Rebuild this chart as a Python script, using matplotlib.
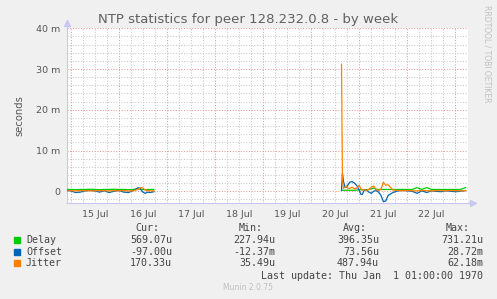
import matplotlib
matplotlib.use("Agg")
import matplotlib.pyplot as plt

# ------------------------------
# datos (milisegundos, dias desde 15 Jul 00:00)
# ------------------------------
dias = ["15 Jul", "16 Jul", "17 Jul", "18 Jul", "19 Jul", "20 Jul", "21 Jul", "22 Jul"]

t1 = [-0.08, 0.0, 0.1, 0.2, 0.3, 0.4, 0.5, 0.6, 0.7, 0.8, 0.9, 1.0, 1.1,
      1.2, 1.3, 1.35, 1.4, 1.45, 1.5, 1.55, 1.6, 1.65, 1.73]
delay1 = [0.45, 0.45, 0.4, 0.45, 0.45, 0.5, 0.45, 0.4, 0.45, 0.45, 0.5, 0.45, 0.45,
          0.4, 0.45, 0.5, 0.6, 0.5, 0.45, 0.4, 0.45, 0.45, 0.45]
offset1 = [0.2, 0.1, -0.3, -0.2, 0.1, 0.2, 0.1, -0.2, 0.1, -0.3, 0.0, 0.2, -0.2,
           -0.3, 0.2, 0.5, 0.9, 0.6, -0.2, -0.5, -0.2, -0.3, -0.1]
jitter1 = [0.1, 0.15, 0.1, 0.2, 0.1, 0.15, 0.1, 0.2, 0.1, 0.1, 0.15, 0.1, 0.2,
           0.1, 0.1, 0.3, 0.5, 0.9, 0.8, 0.3, 0.2, 0.1, 0.1]

t2 = [5.63, 5.65, 5.67, 5.70, 5.73, 5.76, 5.80, 5.85, 5.90, 5.95, 6.00, 6.03,
      6.06, 6.10, 6.15, 6.20, 6.25, 6.30, 6.35, 6.40, 6.45, 6.50, 6.55, 6.60,
      6.70, 6.80, 6.90, 7.00, 7.10, 7.20, 7.30, 7.40, 7.50, 7.60, 7.70, 7.80,
      7.90, 8.00, 8.10, 8.21]
delay2 = [0.25, 0.25, 0.25, 0.25, 0.25, 0.25, 0.25, 0.25, 0.25, 0.3, 0.4, 0.4,
          0.4, 0.4, 0.4, 0.45, 0.6, 0.8, 0.5, 0.45, 0.45, 0.45, 0.45, 0.45,
          0.45, 0.45, 0.45, 0.45, 0.45, 0.9, 0.45, 0.9, 0.45, 0.45, 0.45, 0.45,
          0.45, 0.45, 0.45, 0.9]
offset2 = [0.3, 4.4, 2.5, 1.1, 1.0, 1.5, 2.2, 2.4, 2.0, 1.4, 0.2, -0.7,
           -0.8, 0.2, 0.3, -0.2, -0.5, 0.0, 0.2, -0.2, -1.0, -2.5, -2.4, -1.0,
           -0.3, 0.1, 0.2, 0.1, 0.0, -0.5, 0.1, -0.3, 0.1, 0.0, -0.1, 0.1,
           0.0, -0.1, 0.0, 0.2]
jitter2 = [31.2, 2.5, 0.7, 1.0, 1.3, 0.8, 0.7, 1.0, 0.6, 0.8, 1.5, 0.6,
           0.3, 0.4, 0.2, 0.5, 1.0, 1.3, 0.4, 0.2, 0.5, 2.2, 1.5, 1.6,
           0.3, 0.2, 0.15, 0.2, 0.15, 0.1, 0.2, 0.15, 0.1, 0.2, 0.15, 0.1,
           0.2, 0.15, 0.1, 0.15]

series = ["Delay", "Offset", "Jitter"]
colores = ["#00CC00", "#0066B3", "#FF8000"]
cur = ["569.07u", "-97.00u", "170.33u"]
minimo = ["227.94u", "-12.37m", "35.49u"]
promedio = ["396.35u", "73.56u", "487.94u"]
maximo = ["731.21u", "28.72m", "62.18m"]

W, H = 497, 299


def px(x, y):
    return x / W, 1 - y / H


fig = plt.figure(figsize=(W / 100, H / 100), dpi=100, facecolor="#F0F0F0")
ax = fig.add_axes([67 / W, (H - 202.7) / H, (468 - 67) / W, (202.7 - 28.3) / H])
ax.set_facecolor("white")

ax.set_xlim(-0.077, 8.26)
ax.set_ylim(-2.8, 40)

# ------------------------------
# grilla
# ------------------------------
rojo = "#E89A9A"
gris = "#C8C8C8"
punteado = (0, (1, 1.6))

for k in range(-1, 34):
    xv = k * 0.25
    if -0.077 < xv < 8.26:
        if k % 4 == 0:
            ax.axvline(xv, color=rojo, lw=0.75, ls=punteado, zorder=1)
        else:
            ax.axvline(xv, color=gris, lw=0.75, ls=punteado, zorder=1)

for k in range(-1, 21):
    yv = k * 2
    if k % 5 == 0:
        ax.axhline(yv, color=rojo, lw=0.75, ls=punteado, zorder=1)
    else:
        ax.axhline(yv, color=gris, lw=0.75, ls=punteado, zorder=1)

# ------------------------------
# series
# ------------------------------
ax.plot(t1, delay1, color=colores[0], lw=0.9, zorder=3)
ax.plot(t1, offset1, color=colores[1], lw=0.9, zorder=4)
ax.plot(t1, jitter1, color=colores[2], lw=0.9, zorder=5)
ax.plot(t2, delay2, color=colores[0], lw=0.9, zorder=3)
ax.plot(t2, offset2, color=colores[1], lw=0.9, zorder=4)
ax.plot(t2, jitter2, color=colores[2], lw=0.9, zorder=5)

# ------------------------------
# ejes
# ------------------------------
for s in ["top", "right"]:
    ax.spines[s].set_visible(False)
ax.spines["left"].set_color("#C8C8F0")
ax.spines["bottom"].set_color("#C8C8F0")
ax.plot([0, 0], [1, 1.03], color="#C8C8F0", lw=0.8,
        transform=ax.transAxes, clip_on=False)
ax.plot([1, 1.01], [0, 0], color="#C8C8F0", lw=0.8,
        transform=ax.transAxes, clip_on=False)
ax.plot(0, 1.03, marker="^", ms=4, color="#C8C8F0",
        transform=ax.transAxes, clip_on=False)
ax.plot(1.012, 0, marker=">", ms=4, color="#C8C8F0",
        transform=ax.transAxes, clip_on=False)

ax.set_yticks([0, 10, 20, 30, 40])
ax.set_yticklabels(["0", "10 m", "20 m", "30 m", "40 m"])
ax.set_xticks([i + 0.5 for i in range(len(dias))])
ax.set_xticklabels(dias)
ax.tick_params(axis="both", length=0, labelsize=6.8, colors="#555555", pad=5)
ax.set_ylabel("seconds", fontsize=7.2, color="#555555", labelpad=8)

fig.text(*px(248, 19), "NTP statistics for peer 128.232.0.8 - by week",
         ha="center", va="center", fontsize=9.5, color="#606060")
fig.text(*px(487, 5), "RRDTOOL / TOBI OETIKER", rotation=270,
         ha="center", va="top", fontsize=5.5, color="#C0C0C0")

# ------------------------------
# leyenda tipo munin
# ------------------------------
mono = {"family": "DejaVu Sans Mono", "fontsize": 7.2, "color": "#444444"}

for xx, txt in zip([159, 263, 367, 470], ["Cur:", "Min:", "Avg:", "Max:"]):
    fig.text(*px(xx, 228), txt, ha="right", va="center", **mono)

for i, nombre in enumerate(series):
    yy = 240 + i * 11.7
    fig.patches.append(plt.Rectangle(px(14, yy + 3), 6 / W, 6 / H,
                                     transform=fig.transFigure,
                                     color=colores[i]))
    fig.text(*px(26, yy), nombre, ha="left", va="center", **mono)
    fig.text(*px(172, yy), cur[i], ha="right", va="center", **mono)
    fig.text(*px(275, yy), minimo[i], ha="right", va="center", **mono)
    fig.text(*px(379, yy), promedio[i], ha="right", va="center", **mono)
    fig.text(*px(483, yy), maximo[i], ha="right", va="center", **mono)

fig.text(*px(483, 276), "Last update: Thu Jan  1 01:00:00 1970",
         ha="right", va="center", **mono)
fig.text(*px(248, 288), "Munin 2.0.75", ha="center", va="center",
         fontsize=5.5, color="#C0C0C0")

fig.savefig("out.png", dpi=100, facecolor=fig.get_facecolor())
